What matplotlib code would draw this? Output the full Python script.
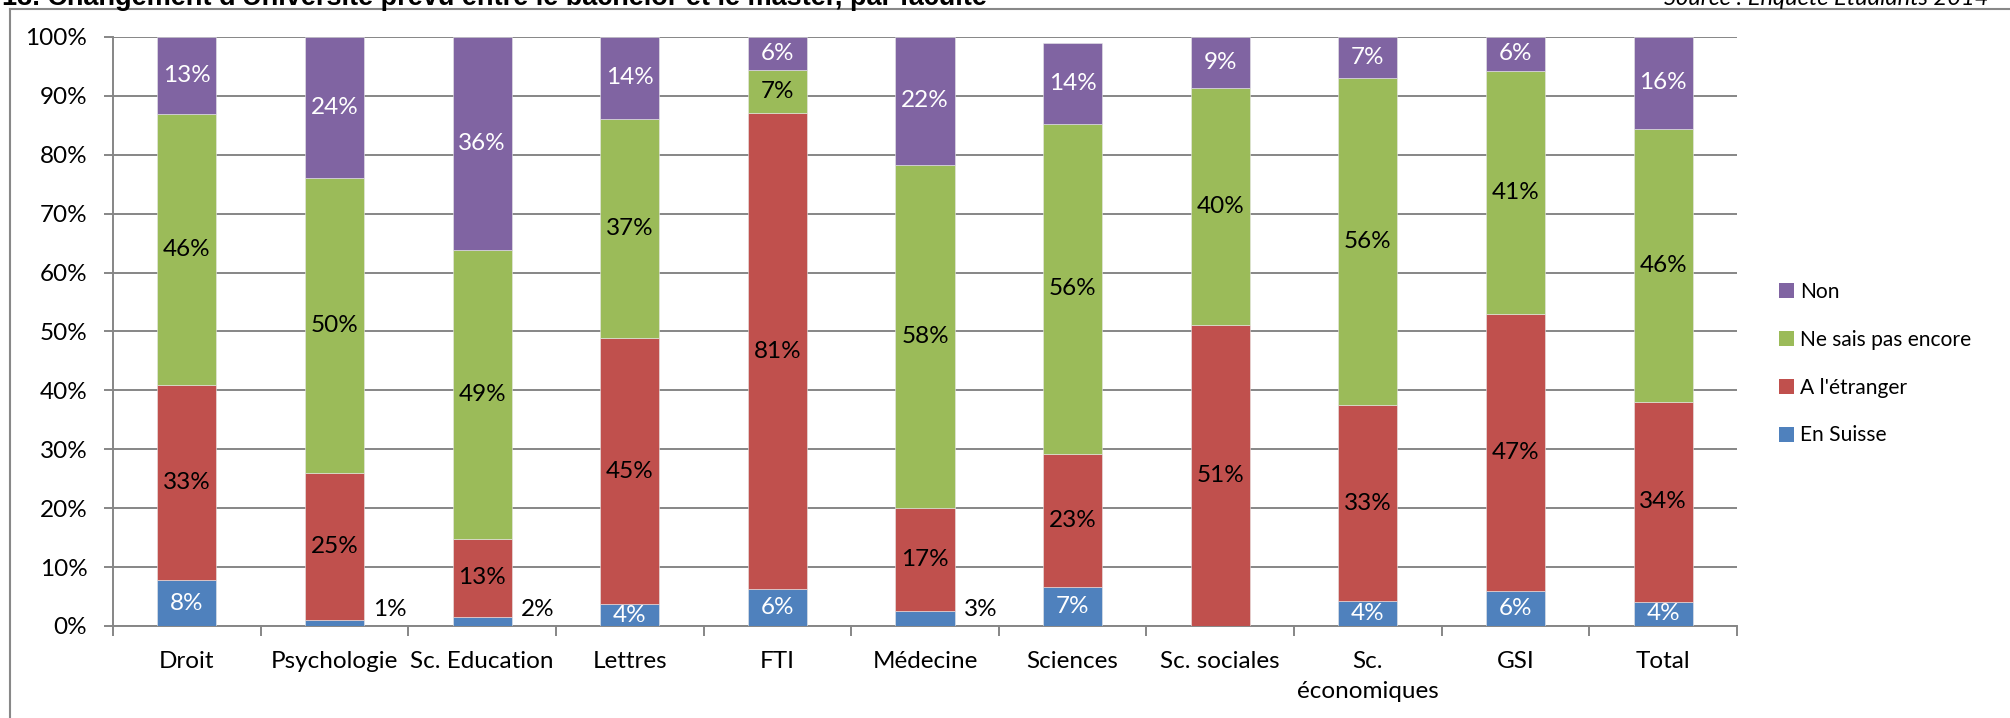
import matplotlib
matplotlib.use("Agg")
import matplotlib.pyplot as plt
from matplotlib.patches import Patch
import numpy as np

categories = ["Droit", "Psychologie", "Sc. Education", "Lettres", "FTI", "Médecine",
              "Sciences", "Sc. sociales", "Sc.\néconomiques", "GSI", "Total"]
en_suisse = [7.8, 1.1, 1.6, 3.7, 6.2, 2.6, 6.6, 0.0, 4.2, 5.9, 4.1]
etranger = [33.1, 24.8, 13.2, 45.2, 80.9, 17.4, 22.6, 51.1, 33.3, 47.1, 34.0]
ne_sais = [46.1, 50.2, 49.1, 37.2, 7.3, 58.3, 56.1, 40.3, 55.6, 41.3, 46.3]
non = [13.0, 23.9, 36.1, 13.9, 5.6, 21.7, 13.7, 8.6, 6.9, 5.7, 15.6]
series_names = ["En Suisse", "A l'étranger", "Ne sais pas encore", "Non"]
yticks = [0, 10, 20, 30, 40, 50, 60, 70, 80, 90, 100]

colors = ["#4F81BD", "#C0504D", "#9BBB59", "#8064A2"]
label_colors = ["white", "black", "black", "white"]

FONT = "Lato"
FS = 17.5

W, H = 2010, 718
fig = plt.figure(figsize=(W / 100, H / 100), dpi=100)

# axes placement in pixels
x0, x1 = 113, 1737
y_top, y_bot = 37, 626
ax = fig.add_axes([x0 / W, (H - y_bot) / H, (x1 - x0) / W, (y_bot - y_top) / H])

x = np.arange(len(categories))
bw = 0.4
bottom = np.zeros(len(categories))
data = [en_suisse, etranger, ne_sais, non]
for si, vals in enumerate(data):
    vals = np.array(vals)
    ax.bar(x, vals, bw, bottom=bottom, color=colors[si], edgecolor="#e8e8e8",
           linewidth=0.4, zorder=3)
    for i, v in enumerate(vals):
        if v <= 0:
            continue
        txt = f"{v:.0f}%"
        if si == 0 and v < 3.0:
            ax.annotate(txt, xy=(x[i] + bw / 2, 0), xytext=(9, 16),
                        textcoords="offset pixels", ha="left", va="center",
                        fontsize=FS, family=FONT, color="black", zorder=4)
        else:
            ax.text(x[i], bottom[i] + v / 2, txt, ha="center", va="center",
                    fontsize=FS, family=FONT, color=label_colors[si], zorder=4)
    bottom = bottom + vals

ax.set_xlim(-0.5, len(categories) - 0.5)
ax.set_ylim(0, 100)
ax.set_yticks(yticks)
ax.set_yticklabels([f"{t}%" for t in yticks], fontsize=FS, family=FONT)
ax.yaxis.grid(True, color="#868686", linewidth=1.4, zorder=0)
ax.set_axisbelow(True)

ax.set_xticks(x)
ax.set_xticklabels(categories, fontsize=FS, family=FONT, linespacing=1.5)
ax.set_xticks(np.arange(-0.5, len(categories), 1.0), minor=True)
ax.tick_params(axis="x", which="major", length=0, pad=18)
ax.tick_params(axis="x", which="minor", length=7, width=1.4, color="#868686", direction="out")
ax.tick_params(axis="y", which="major", length=6.5, width=1.4, color="#868686", pad=12)

for s in ["top", "right"]:
    ax.spines[s].set_visible(False)
for s in ["left", "bottom"]:
    ax.spines[s].set_color("#868686")
    ax.spines[s].set_linewidth(1.4)

# legend font size fitted so that the longest entry is ~172 px wide
renderer = fig.canvas.get_renderer()
probe = fig.text(0, 0, "Ne sais pas encore", fontsize=18, family=FONT)
wpx = probe.get_window_extent(renderer=renderer).width
probe.remove()
LFS = 18 * 172.0 / wpx

handles = [Patch(facecolor=colors[i], edgecolor="none") for i in range(3, -1, -1)]
labels = [series_names[i] for i in range(3, -1, -1)]
leg = fig.legend(handles, labels, loc="upper left",
                 bbox_to_anchor=(1779 / W, 1 - 282 / H), frameon=False,
                 prop={"family": FONT, "size": LFS}, handlelength=0.72, handleheight=0.72,
                 handletextpad=0.3, labelspacing=1.32, borderpad=0, borderaxespad=0)

# frame lines
fig.add_artist(plt.Line2D([10 / W, 1.0], [1 - 9 / H, 1 - 9 / H], color="#888888",
                          linewidth=1.5, transform=fig.transFigure))
fig.add_artist(plt.Line2D([10 / W, 10 / W], [0, 1 - 9 / H], color="#888888",
                          linewidth=1.5, transform=fig.transFigure))

# title (clipped at top, as in the source page) and source
fig.text(2 / W, 1 - 5 / H, "13. Changement d'Université prévu entre le bachelor et le master, par faculté",
         ha="left", va="baseline", fontsize=19.5, fontweight="bold", family="Liberation Sans")
fig.text(1988 / W, 1 - 5 / H, "Source : Enquête Etudiants 2014", ha="right", va="baseline",
         fontsize=17, style="italic", family=FONT)

fig.savefig("out.png", dpi=100)
